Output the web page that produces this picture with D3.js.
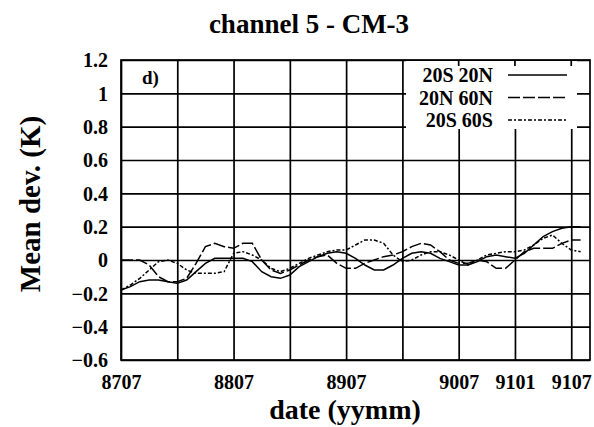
<!DOCTYPE html>
<html>
<head>
<meta charset="utf-8">
<script src="https://cdn.jsdelivr.net/npm/d3@7"></script>
<style>
  html, body { margin: 0; padding: 0; background: #fff; }
  svg { display: block; }
</style>
</head>
<body>
<svg id="chart" width="594" height="427"></svg>
<script>
// Monthly dates (yymm), July 1987 to September 1991
const months = [
  "8707","8708","8709","8710","8711","8712",
  "8801","8802","8803","8804","8805","8806","8807","8808","8809","8810","8811","8812",
  "8901","8902","8903","8904","8905","8906","8907","8908","8909","8910","8911","8912",
  "9001","9002","9003","9004","9005","9006","9007","9008","9009","9010","9011","9012",
  "9101","9102","9103","9104","9105","9106","9107","9108","9109"
];

// Mean deviation (K), one value per month from 8707 to 9108
const band20S20N = [
  -0.18,-0.16,-0.13,-0.12,-0.12,-0.13,-0.14,-0.12,-0.07,-0.02,
   0.01, 0.01, 0.01, 0.01,-0.01,-0.07,-0.10,-0.11,-0.09,-0.04,
  -0.01, 0.02, 0.04, 0.05, 0.04, 0.01,-0.03,-0.06,-0.06,-0.03,
   0.01, 0.04, 0.05, 0.04, 0.01,-0.01,-0.03,-0.03,-0.01, 0.02,
   0.03, 0.02, 0.01, 0.04, 0.09, 0.14, 0.17, 0.19, 0.20, 0.20
];
const band20N60N = [
   0.00, 0.00, 0.00,-0.03,-0.10,-0.13,-0.13,-0.11,-0.02, 0.08,
   0.10, 0.08, 0.07, 0.10, 0.10, 0.00,-0.06,-0.08,-0.06,-0.03,
   0.00, 0.02, 0.03,-0.02,-0.05,-0.05,-0.02, 0.00, 0.02, 0.03,
   0.05, 0.08, 0.10, 0.09, 0.05, 0.00,-0.02,-0.02, 0.00,-0.01,
  -0.05,-0.05, 0.00, 0.05, 0.07, 0.07, 0.07, 0.10, 0.12, 0.12
];
const band20S60S = [
  -0.18,-0.15,-0.11,-0.06,-0.01, 0.00,-0.02,-0.06,-0.08,-0.08,
  -0.08,-0.07, 0.04, 0.05, 0.03, 0.00,-0.05,-0.07,-0.05,-0.02,
   0.01, 0.03, 0.05, 0.06, 0.06, 0.09, 0.12, 0.12, 0.10, 0.03,
  -0.01, 0.00, 0.03, 0.05, 0.05, 0.03, 0.00,-0.03, 0.00, 0.03,
   0.04, 0.05, 0.05, 0.06, 0.09, 0.13, 0.15, 0.10, 0.06, 0.05
];

const seriesNames = ["20S 20N", "20N 60N", "20S 60S"];
const seriesData = [band20S20N, band20N60N, band20S60S];
const seriesDash = [null, "12,3", "4,2,2,2"];

const yTicks = [-0.6, -0.4, -0.2, 0, 0.2, 0.4, 0.6, 0.8, 1, 1.2];
const xGridTicks = ["8707","8801","8807","8901","8907","9001","9007","9101","9107"];
const xLabelTicks = ["8707","8807","8907","9007","9101","9107"];

const FONT = "'Liberation Serif', 'Times New Roman', Times, 'DejaVu Serif', serif";

const svg = d3.select("#chart");
const plotL = 121, plotR = 590, plotT = 60, plotB = 360;

const monthIndex = m => months.indexOf(m);
const x = d3.scaleLinear().domain([0, months.length - 1]).range([plotL, plotR]);
const y = d3.scaleLinear().domain([-0.6, 1.2]).range([plotB, plotT]);

function label(sel, size) {
  return sel.attr("font-family", FONT).attr("font-weight", "bold")
    .attr("font-size", size).attr("fill", "#000");
}

// grid
svg.append("g")
  .attr("transform", `translate(0,${plotB})`)
  .call(d3.axisBottom(x).tickValues(xGridTicks.map(monthIndex))
    .tickSize(-(plotB - plotT)).tickFormat(""))
  .call(g => g.select(".domain").remove())
  .call(g => g.selectAll("line").attr("stroke", "#000").attr("stroke-width", 1.7));

svg.append("g")
  .attr("transform", `translate(${plotL},0)`)
  .call(d3.axisLeft(y).tickValues(yTicks).tickSize(-(plotR - plotL)).tickFormat(""))
  .call(g => g.select(".domain").remove())
  .call(g => g.selectAll("line").attr("stroke", "#000").attr("stroke-width", 1.7));

// series
const line = d3.line().x((d, i) => x(i)).y(d => y(d));
seriesData.forEach((vals, k) => {
  svg.append("path")
    .datum(vals)
    .attr("fill", "none")
    .attr("stroke", "#000")
    .attr("stroke-width", 1.5)
    .attr("stroke-dasharray", seriesDash[k])
    .attr("d", line);
});

// legend panel
svg.append("rect").attr("x", 406).attr("y", plotT + 1).attr("width", 171).attr("height", 68).attr("fill", "#fff");
xGridTicks.map(monthIndex).filter(i => x(i) > 406 && x(i) < 577).forEach(i => {
  svg.append("line").attr("x1", x(i)).attr("x2", x(i)).attr("y1", plotT).attr("y2", plotT + 6)
    .attr("stroke", "#000").attr("stroke-width", 1.7);
});
seriesNames.forEach((name, k) => {
  const by = 82 + k * 22.5;
  svg.append("text").attr("x", 493).attr("y", by).attr("text-anchor", "end")
    .call(label, 20).text(name);
  svg.append("line").attr("x1", 508).attr("x2", 567).attr("y1", by - 7).attr("y2", by - 7)
    .attr("stroke", "#000").attr("stroke-width", 1.5).attr("stroke-dasharray", seriesDash[k]);
});

// frame
svg.append("rect").attr("x", plotL).attr("y", plotT).attr("width", plotR - plotL).attr("height", plotB - plotT)
  .attr("fill", "none").attr("stroke", "#000").attr("stroke-width", 1.7);

// axes labels
svg.append("g")
  .attr("transform", `translate(${plotL},0)`)
  .call(d3.axisLeft(y).tickValues(yTicks).tickSize(0).tickPadding(13).tickFormat(d3.format("")))
  .call(g => g.select(".domain").remove())
  .call(g => g.selectAll("text").call(label, 20).attr("dy", "0.34em"));

svg.append("g")
  .attr("transform", `translate(0,${plotB})`)
  .call(d3.axisBottom(x).tickValues(xLabelTicks.map(monthIndex)).tickSize(0).tickPadding(15)
    .tickFormat(i => months[i]))
  .call(g => g.select(".domain").remove())
  .call(g => g.selectAll("text").call(label, 20));

svg.append("text").attr("x", 142).attr("y", 84).call(label, 19).text("d)");

svg.append("text").attr("x", 309).attr("y", 33).attr("text-anchor", "middle")
  .call(label, 27).text("channel 5 - CM-3");

svg.append("text").attr("x", 345).attr("y", 419).attr("text-anchor", "middle")
  .call(label, 28).text("date (yymm)");

svg.append("text").attr("transform", "translate(40,204) rotate(-90)").attr("text-anchor", "middle")
  .call(label, 29).text("Mean dev. (K)");
</script>
</body>
</html>
